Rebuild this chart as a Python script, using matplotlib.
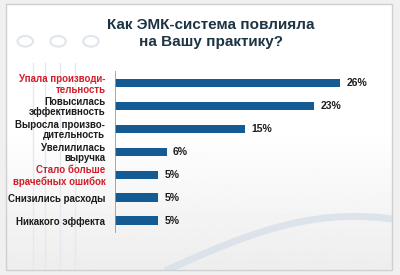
import matplotlib
matplotlib.use('Agg')
import matplotlib.pyplot as plt
import numpy as np

plt.rcParams['font.family'] = ['Liberation Sans', 'DejaVu Sans']

categories = ['Упала производи-\nтельность', 'Повысилась\nэффективность',
              'Выросла произво-\nдительность', 'Увелилилась\nвыручка',
              'Стало больше\nврачебных ошибок', 'Снизились расходы',
              'Никакого эффекта']
values = [26, 23, 15, 6, 5, 5, 5]
highlight = [True, False, False, False, True, False, False]

BAR_COLOR = '#135b92'
RED = '#d21f2b'
DARK = '#1c1c1c'

fig = plt.figure(figsize=(4, 2.75), dpi=100)
fig.patch.set_facecolor('#f0f0f0')

# background panel with soft gradient
bg = fig.add_axes([0.015, 0.02, 0.965, 0.965])
grad = np.concatenate([np.ones(120), np.linspace(1.0, 0.93, 136)]).reshape(-1, 1)
bg.imshow(grad, cmap='gray', vmin=0, vmax=1, aspect='auto', extent=[0, 1, 0, 1])
# faint decorations: swoosh, vertical lines, circles
t = np.linspace(0.42, 1.0, 100)
bg.plot(t, 0.2 * np.sin((t - 0.42) / 0.58 * np.pi * 0.6), color='#d3dde8', lw=5, alpha=0.7)
for xv in [0.07, 0.1, 0.14, 0.18]:
    bg.axvline(xv, 0, 0.78, color='#e4e9ef', lw=1.0)
for xc, yc in [(0.05, 0.86), (0.135, 0.86), (0.22, 0.86)]:
    bg.add_patch(plt.Circle((xc, yc), 0.02, fill=False, ec='#dfe6ee', lw=1.5))
bg.set_xlim(0, 1)
bg.set_ylim(0, 1)
bg.axis('off')
fig.patches.append(plt.Rectangle((0.015, 0.02), 0.965, 0.965, transform=fig.transFigure,
                                 fill=False, ec='#cfcfcf', lw=1.0))

fig.text(0.527, 0.877, 'Как ЭМК-система повлияла\nна Вашу практику?', ha='center', va='center',
         fontsize=11, fontweight='bold', color='#1d3444', linespacing=1.3)

ax = fig.add_axes([0.2875, 0.156, 0.65, 0.585])
ax.patch.set_alpha(0)
y = np.arange(len(categories))
ax.barh(y, values, height=0.36, color=BAR_COLOR)
ax.set_ylim(len(categories) - 0.5, -0.5)
ax.set_xlim(0, 30)
for yi, v in zip(y, values):
    ax.text(v + 0.7, yi, f'{v}%', va='center', ha='left', fontsize=7.5,
            fontweight='bold', color=DARK)

ax.set_yticks(y)
ax.set_yticklabels(categories, fontsize=7.0, fontweight='bold', linespacing=1.1)
for lab, h in zip(ax.get_yticklabels(), highlight):
    lab.set_color(RED if h else DARK)
ax.tick_params(axis='y', length=0, pad=7)
ax.set_xticks([])
for side in ['top', 'right', 'bottom']:
    ax.spines[side].set_visible(False)
ax.spines['left'].set_color('#999999')
ax.spines['left'].set_linewidth(0.6)

fig.savefig('out.png', dpi=100)
